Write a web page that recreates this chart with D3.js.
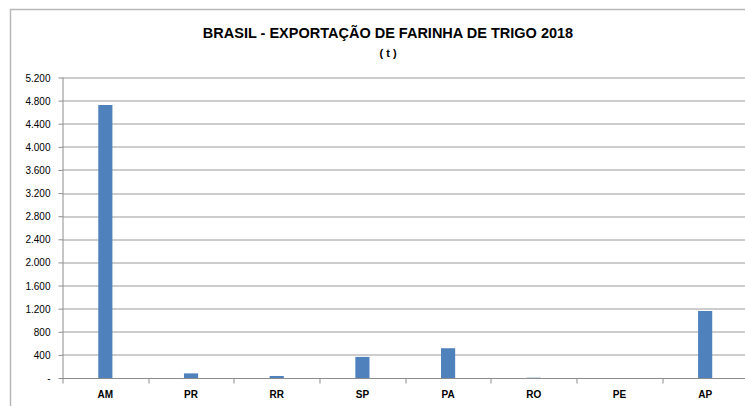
<!DOCTYPE html>
<html>
<head>
<meta charset="utf-8">
<script src="https://cdn.jsdelivr.net/npm/d3@7"></script>
<style>
  body { margin: 0; background: #fff; }
  svg text { font-family: "Liberation Sans", Arial, sans-serif; fill: #000; }
</style>
</head>
<body>
<script>
// Data (t)
var estados = ["AM", "PR", "RR", "SP", "PA", "RO", "PE", "AP"];
var toneladas = [4724, 80, 35, 365, 515, 5, 0, 1160];
var yTicks = [0, 400, 800, 1200, 1600, 2000, 2400, 2800, 3200, 3600, 4000, 4400, 4800, 5200];

var W = 745, H = 406;
var margin = {left: 62.5, right: -3, top: 77.5, bottom: 28};
var width = W - margin.left - margin.right,
    height = H - margin.top - margin.bottom;

var svg = d3.select("body").append("svg")
    .attr("width", W)
    .attr("height", H);

// outer chart border (cropped at right/bottom)
svg.append("rect")
    .attr("x", 10.5).attr("y", 9.5)
    .attr("width", W + 10).attr("height", H + 10)
    .attr("fill", "none")
    .attr("stroke", "#b8b8b8")
    .attr("stroke-width", 1.5);

var g = svg.append("g")
    .attr("transform", "translate(" + margin.left + "," + margin.top + ")");

var xScale = d3.scaleBand()
    .domain(estados)
    .range([0, width])
    .paddingInner(0.835)
    .paddingOuter(0.4175);

var yScale = d3.scaleLinear()
    .domain([0, 5200])
    .range([height, 0]);

// gridlines
g.append("g")
    .selectAll("line")
    .data(yTicks.filter(function(d) { return d > 0; }))
    .enter().append("line")
    .attr("x1", 0).attr("x2", width)
    .attr("y1", function(d) { return Math.round(yScale(d)) + 0.5; })
    .attr("y2", function(d) { return Math.round(yScale(d)) + 0.5; })
    .attr("stroke", "#9a9a9a")
    .attr("stroke-width", 1);

// bars
g.selectAll(".bar")
    .data(toneladas)
    .enter().append("rect")
    .attr("class", "bar")
    .attr("x", function(d, i) { return xScale(estados[i]); })
    .attr("width", xScale.bandwidth())
    .attr("y", function(d) { return yScale(d); })
    .attr("height", function(d) { return height - yScale(d); })
    .attr("fill", "#4f81bd");

// y axis
var yAxis = d3.axisLeft(yScale)
    .tickValues(yTicks)
    .tickSize(4)
    .tickPadding(8)
    .tickFormat(function(d) { return d === 0 ? "-" : d3.format(",")(d).replace(/,/g, "."); });

var yg = g.append("g").call(yAxis);
yg.select(".domain").attr("stroke", "#8c8c8c").attr("d", "M0.5,0V" + height);
yg.selectAll(".tick line").attr("stroke", "#8c8c8c");
yg.selectAll(".tick text").attr("font-size", "10px").attr("dy", "0.35em");

// x axis
var xg = g.append("g").attr("transform", "translate(0," + (height + 0.5) + ")");
xg.append("line")
    .attr("x1", -3).attr("x2", width)
    .attr("stroke", "#8c8c8c");
var bounds = d3.range(estados.length + 1).map(function(i) { return i * width / estados.length; });
xg.selectAll(".xt")
    .data(bounds)
    .enter().append("line")
    .attr("class", "xt")
    .attr("x1", function(d) { return Math.round(d) + 0.5; })
    .attr("x2", function(d) { return Math.round(d) + 0.5; })
    .attr("y1", 0).attr("y2", 5)
    .attr("stroke", "#8c8c8c");
xg.selectAll(".xl")
    .data(estados)
    .enter().append("text")
    .attr("class", "xl")
    .attr("x", function(d) { return xScale(d) + xScale.bandwidth() / 2; })
    .attr("y", 19)
    .attr("text-anchor", "middle")
    .attr("font-size", "10px")
    .attr("font-weight", "bold")
    .text(function(d) { return d; });

// title
svg.append("text")
    .attr("x", 388).attr("y", 38)
    .attr("text-anchor", "middle")
    .attr("font-size", "14.5px")
    .attr("font-weight", "bold")
    .text("BRASIL - EXPORTAÇÃO DE FARINHA DE TRIGO 2018");
svg.append("text")
    .attr("x", 388).attr("y", 57)
    .attr("text-anchor", "middle")
    .attr("font-size", "11px")
    .attr("font-weight", "bold")
    .text("( t )");
</script>
</body>
</html>
